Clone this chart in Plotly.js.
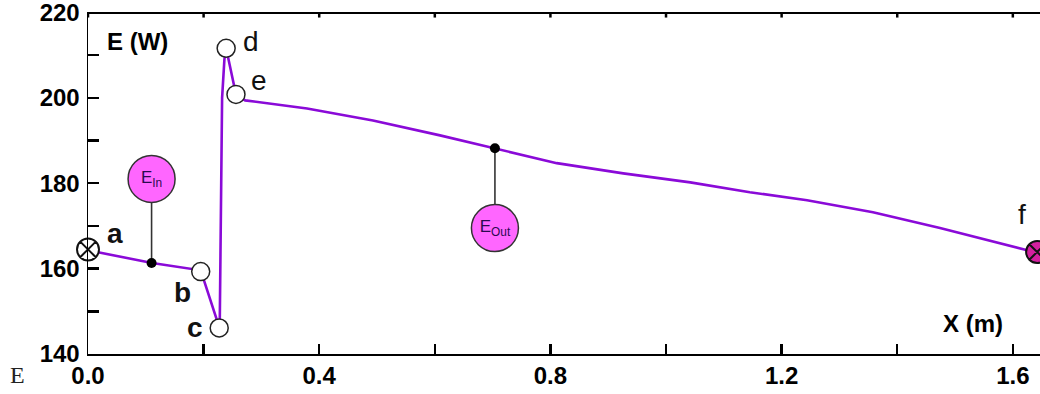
<!DOCTYPE html>
<html>
<head>
<meta charset="utf-8">
<script src="https://cdn.plot.ly/plotly-3.0.1.min.js"></script>
<style>html,body{margin:0;padding:0;background:#fff;}#chart{width:1040px;height:394px;}</style>
</head>
<body>
<div id="chart"></div>
<script>
// ---- data ----
var curveX = [0, 0.111, 0.195, 0.227, 0.228, 0.232, 0.236, 0.239, 0.256, 0.272, 0.379, 0.493, 0.609, 0.704, 0.811, 0.926, 1.042, 1.145, 1.244, 1.358, 1.474, 1.625, 1.642];
var curveY = [164.3, 161.3, 159.6, 146.3, 148, 200, 209, 211.6, 200.8, 199.4, 197.5, 194.7, 191.2, 188.2, 184.7, 182.3, 180.2, 177.9, 176.0, 173.2, 169.5, 164.3, 163.9];

var openPtX = [0.195, 0.227, 0.239, 0.256];   // b, c, d, e
var openPtY = [159.3, 146.1, 211.6, 200.8];
var startX = [0], startY = [164.5];            // a
var endX = [1.642], endY = [163.9];            // f

var dotX = [0.110, 0.704];
var dotY = [161.3, 188.2];
var bubbleX = [0.110, 0.704];
var bubbleY = [181.0, 169.5];
var bubbleText = ['E<sub>In</sub>', 'E<sub>Out</sub>'];

var labelText = ['a', 'b', 'c', 'd', 'e', 'f'];
var labelX = [0.047, 0.164, 0.185, 0.282, 0.296, 1.616];
var labelY = [168.3, 154.3, 146.1, 213.2, 204.1, 172.7];
var labelBold = [true, true, true, false, false, false];

var xTickVals = [0, 0.4, 0.8, 1.2, 1.6];
var xTickText = ['0.0', '0.4', '0.8', '1.2', '1.6'];
var xMinorStep = 0.2;
var yTickVals = [140, 160, 180, 200, 220];
var yTickText = ['140', '160', '180', '200', '220'];
var yMinorStep = 10;
var topTickVals = [0, 0.2, 0.4, 0.6, 0.8, 1.0, 1.2, 1.4, 1.6];
var xRange = [0, 1.647];
var yRange = [140, 220.1];

// ---- traces ----
var traces = [];
// top border with short ticks (frame)
var frameX = [xRange[0], xRange[1]], frameY = [yRange[1] - 0.2, yRange[1] - 0.2];
topTickVals.forEach(function (v) { frameX.push(null, v, v); frameY.push(null, yRange[1], yRange[1] - 1.3); });
traces.push({x: frameX, y: frameY, mode: 'lines', line: {color: '#000', width: 2.5}, cliponaxis: false,
  hoverinfo: 'skip', showlegend: false, connectgaps: false});

for (var i = 0; i < dotX.length; i++) {
  traces.push({x: [dotX[i], bubbleX[i]], y: [dotY[i], bubbleY[i]], mode: 'lines',
    line: {color: '#333333', width: 1.6}, hoverinfo: 'skip', showlegend: false});
}
traces.push({x: curveX, y: curveY, mode: 'lines', line: {color: '#8a0ad8', width: 2.6},
  showlegend: false, hoverinfo: 'skip'});
traces.push({x: bubbleX, y: bubbleY, mode: 'markers+text', text: bubbleText,
  textposition: 'middle center', textfont: {family: 'Liberation Sans, Arial, sans-serif', size: 17, color: '#2a0a50'},
  marker: {size: 47, color: '#ff66ff', line: {color: '#333333', width: 1.5}}, showlegend: false, hoverinfo: 'skip'});
traces.push({x: dotX, y: dotY, mode: 'markers', marker: {size: 10, color: '#000000'}, showlegend: false, hoverinfo: 'skip'});
traces.push({x: openPtX, y: openPtY, mode: 'markers',
  marker: {size: 18, color: '#ffffff', line: {color: '#222222', width: 1.5}}, showlegend: false, hoverinfo: 'skip'});
traces.push({x: startX, y: startY, mode: 'markers',
  marker: {symbol: 'circle-x', size: 22, color: '#ffffff', line: {color: '#111111', width: 2}}, showlegend: false, hoverinfo: 'skip', cliponaxis: false});
traces.push({x: endX, y: endY, mode: 'markers',
  marker: {symbol: 'circle-x', size: 22, color: '#d4209f', line: {color: '#111111', width: 2}}, showlegend: false, hoverinfo: 'skip', cliponaxis: false});

var annotations = [];
for (var j = 0; j < labelText.length; j++) {
  annotations.push({x: labelX[j], y: labelY[j], xref: 'x', yref: 'y', text: labelText[j], showarrow: false,
    xanchor: 'center', yanchor: 'middle',
    font: {family: 'Liberation Sans, Arial, sans-serif', size: 28, color: '#111111', weight: labelBold[j] ? 'bold' : 'normal'}});
}
annotations.push({x: 0.018, y: 0.915, xref: 'paper', yref: 'paper', text: 'E (W)', showarrow: false,
  xanchor: 'left', yanchor: 'middle', font: {family: 'Liberation Sans, Arial, sans-serif', size: 24, color: '#000', weight: 'bold'}});
annotations.push({x: 0.93, y: 0.088, xref: 'paper', yref: 'paper', text: 'X (m)', showarrow: false,
  xanchor: 'center', yanchor: 'middle', font: {family: 'Liberation Sans, Arial, sans-serif', size: 24, color: '#000', weight: 'bold'}});
annotations.push({x: -0.074, y: -0.062, xref: 'paper', yref: 'paper', text: 'E', showarrow: false,
  xanchor: 'center', yanchor: 'middle', font: {family: 'Liberation Serif, Times New Roman, serif', size: 24, color: '#222'}});

var tickFont = {family: 'Liberation Sans, Arial, sans-serif', size: 24, color: '#000', weight: 'bold'};
var layout = {
  width: 1040, height: 394,
  margin: {l: 88, r: 0, t: 12, b: 40, pad: 0},
  paper_bgcolor: '#ffffff', plot_bgcolor: '#ffffff',
  xaxis: {range: xRange, tickvals: xTickVals, ticktext: xTickText, ticks: 'inside', ticklen: 10, tickwidth: 2.5,
    tickcolor: '#000', showline: true, linecolor: '#000', linewidth: 1.5, showgrid: false, zeroline: false,
    tickfont: tickFont, ticklabeloverflow: 'allow',
    minor: {dtick: xMinorStep, tick0: 0, ticks: 'inside', ticklen: 10, tickwidth: 2.5, tickcolor: '#000', showgrid: false}},
  yaxis: {range: yRange, tickvals: yTickVals, ticktext: yTickText, ticks: 'inside', ticklen: 11, tickwidth: 2.5,
    tickcolor: '#000', showline: true, linecolor: '#000', linewidth: 1.5, showgrid: false, zeroline: false,
    tickfont: tickFont, ticklabelstandoff: 2, ticklabeloverflow: 'allow',
    minor: {dtick: yMinorStep, tick0: 140, ticks: 'inside', ticklen: 11, tickwidth: 2.5, tickcolor: '#000', showgrid: false}},
  annotations: annotations,
  showlegend: false
};

Plotly.newPlot('chart', traces, layout, {staticPlot: true, displayModeBar: false});
</script>
</body>
</html>
